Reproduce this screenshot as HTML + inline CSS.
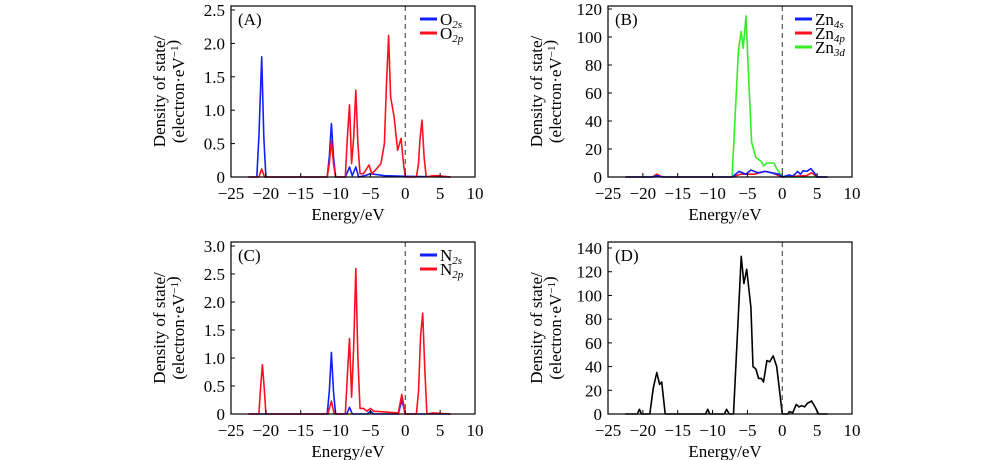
<!DOCTYPE html>
<html><head><meta charset="utf-8"><style>
body{margin:0;background:#fff;}
svg{display:block;font-family:"Liberation Serif",serif;}
</style></head><body>
<svg id="chart" width="1000" height="460" viewBox="0 0 1000 460" xmlns="http://www.w3.org/2000/svg"></svg>
<script>
const xTicks=[-25,-20,-15,-10,-5,0,5,10];
const yTicksA=[0,0.5,1.0,1.5,2.0,2.5];
const yTicksB=[0,20,40,60,80,100,120];
const yTicksC=[0,0.5,1.0,1.5,2.0,2.5,3.0];
const yTicksD=[0,20,40,60,80,100,120,140];
// Panel A
const aO2sE=[-22.5,-21.3,-21.0,-20.6,-20.3,-20.0,-11.2,-10.9,-10.6,-10.3,-10.0,-8.6,-8.0,-7.6,-7.1,-6.7,-5.5,-5,-3,0,6.5];
const aO2sV=[0,0,0.6,1.8,0.6,0,0,0.3,0.8,0.3,0,0,0.15,0.02,0.15,0,0.03,0.05,0.02,0.01,0];
const aO2pE=[-22.5,-21.0,-20.6,-20.2,-11.2,-10.9,-10.6,-10.3,-10.0,-8.6,-8.3,-8.0,-7.7,-7.4,-7.1,-6.8,-6.5,-6,-5.2,-4.8,-4.3,-3.5,-3.0,-2.7,-2.4,-2.1,-1.6,-1.1,-0.6,-0.25,0,1.6,1.9,2.1,2.4,2.7,3.0,4,4.7,6.5];
const aO2pV=[0,0,0.12,0,0,0.2,0.55,0.2,0,0,0.6,1.08,0.2,0.6,1.3,0.5,0.05,0.05,0.18,0.05,0.1,0.2,0.5,1.4,2.12,1.2,0.9,0.4,0.58,0.2,0,0,0.2,0.55,0.85,0.3,0,0.02,0.02,0];
// Panel B
const bZn4sE=[-22.5,-18.5,-18,-17.3,-7.2,-6.2,-5.2,-4.5,-3.5,-2.5,-1.5,-0.5,0,1,1.5,2.2,2.6,3,3.5,4.1,4.6,5,6.5];
const bZn4sV=[0,0,1,0,0,4,2,5,3,4,3,2,0,1.5,0.5,4,2,4.5,4,6,3,0,0];
const bZn4pE=[-22.5,-18.6,-18,-17.2,-7.2,-6,-4,-2.5,-1.5,0,3.5,4.2,5,6.5];
const bZn4pV=[0,0,2,0,0,2,2,4,3,0,1,3,0,0];
const bZn3dE=[-22.5,-18.8,-18,-17.2,-7.2,-6.8,-6.3,-5.9,-5.6,-5.2,-4.9,-4.4,-3.8,-3,-2.7,-2.2,-1.2,-0.8,0,6.5];
const bZn3dV=[0,0,1.5,0,0,40,90,104,92,115,80,25,14,11,8,10,10,6,0,0];
// Panel C
const cN2sE=[-22.5,-11.2,-10.9,-10.6,-10.3,-10.0,-8.4,-8.0,-7.6,-5.5,-5,-4.5,-1,-0.5,0,6.5];
const cN2sV=[0,0,0.4,1.1,0.4,0,0,0.12,0,0,0.05,0,0,0.25,0,0];
const cN2pE=[-22.5,-21.0,-20.8,-20.5,-20.2,-20.0,-11.1,-10.6,-10.2,-8.6,-8.3,-8.0,-7.7,-7.4,-7.1,-6.8,-6.5,-6,-5.5,-5,-4.5,-1,-0.5,0,1.6,1.9,2.2,2.5,2.8,3.1,4,6.5];
const cN2pV=[0,0,0.4,0.88,0.4,0,0,0.23,0,0,0.7,1.35,0.3,1.2,2.6,1.0,0.1,0.1,0.05,0.1,0.05,0.02,0.35,0,0,0.4,1.4,1.8,0.8,0,0.02,0];
// Panel D
const dTotE=[-22.5,-20.8,-20.5,-20.2,-19,-18.5,-18,-17.6,-17.3,-16.8,-11,-10.7,-10.4,-8.3,-8,-7.6,-7,-6.5,-5.9,-5.5,-5.1,-4.5,-4.2,-3.8,-3.4,-3,-2.7,-2.2,-1.8,-1.3,-0.8,-0.5,0,0.8,1,1.5,2,2.4,2.8,3.2,3.6,4.2,4.8,5.2,6.5];
const dTotV=[0,0,4,0,0,22,35,25,27,0,0,4,0,0,4,0,0,60,133,110,122,90,40,38,30,30,27,45,44,49,40,25,0,0,2,1,8,6,7,6,9,11,5,0,0];

const NS="http://www.w3.org/2000/svg";
const svg=document.getElementById('chart');
function mk(tag,attrs,parent){const e=document.createElementNS(NS,tag);for(const k in attrs)e.setAttribute(k,attrs[k]);(parent||svg).appendChild(e);return e;}

function panel(cfg){
  const g=mk('g',{});
  
  
  const L=cfg.left,R=cfg.right,T=cfg.top,B=cfg.bottom;
  const sx=e=>L+(e+25)/35*(R-L);
  const y0=B, ytop=cfg.yTickTop;
  const sy=v=>y0-v/cfg.yMax*(y0-ytop);
  cfg.series.forEach(s=>{
    const d=s.E.map((e,i)=>(i?'L':'M')+sx(e).toFixed(1)+' '+sy(s.V[i]).toFixed(1)).join(' ');
    const p=mk('path',{d:d,fill:'none',stroke:s.color,'stroke-width':1.6,'stroke-linejoin':'round'},g);
    
    
  });
  const fl=mk('line',{x1:sx(0),x2:sx(0),y1:T,y2:B,stroke:'#555','stroke-width':1.2,'stroke-dasharray':'5,4'},g);
  
  
  const fr=mk('rect',{x:L,y:T,width:R-L,height:B-T,fill:'none',stroke:'#000','stroke-width':1.2},g);
  
  
  xTicks.forEach(t=>{
    const x=sx(t);
    mk('line',{x1:x,x2:x,y1:B,y2:B-4,stroke:'#000'},g);
    const tx=mk('text',{x:x,y:B+22,'font-size':17,'text-anchor':'middle'},g);
    tx.textContent=(t<0?'\u2212'+(-t):t);
    
    
  });
  cfg.yTicks.forEach(t=>{
    const y=sy(t);
    mk('line',{x1:L,x2:L+4,y1:y,y2:y,stroke:'#000'},g);
    const tx=mk('text',{x:L-6,y:y+6,'font-size':17,'text-anchor':'end'},g);
    tx.textContent=t===0?'0':t.toFixed(cfg.dec);
    
    
  });
  const xl=mk('text',{x:(L+R)/2-5,y:B+43,'font-size':17,'text-anchor':'middle'},g);
  xl.textContent='Energy/eV';
  
  
  const yl=mk('text',{transform:`translate(${cfg.ytx},${(T+B)/2}) rotate(-90)`,'font-size':17,'text-anchor':'middle'},g);
  
  
  const t1=mk('tspan',{x:0,y:0},yl);t1.textContent='Density of state/';
  const t2=mk('tspan',{x:0,y:19},yl);t2.innerHTML='(electron·eV<tspan font-size="11" dy="-6">\u22121</tspan>)';
  const pl=mk('text',{x:L+7,y:T+19,'font-size':17},g);
  pl.textContent=cfg.label;
  
  
  cfg.legend.forEach((l,i)=>{
    const ly=T+13+i*14;
    const lg=mk('g',{},g);
    
    
    mk('line',{x1:cfg.legX,x2:cfg.legX+17,y1:ly,y2:ly,stroke:l.color,'stroke-width':3},lg);
    const t=mk('text',{x:cfg.legX+20,y:ly+6,'font-size':17},lg);
    t.innerHTML=l.base+'<tspan font-size="11" font-style="italic" dy="3">'+l.sub+'</tspan>';
  });
}

panel({name:'panel-a',label:'(A)',left:231,right:475,top:6,bottom:177,yTickTop:10,yMax:2.5,yTicks:yTicksA,dec:1,ytx:165,legX:420,
  series:[{id:'o2s-line',E:aO2sE,V:aO2sV,color:'#1020ff'},{id:'o2p-line',E:aO2pE,V:aO2pV,color:'#ff1020'}],
  legend:[{color:'#1020ff',base:'O',sub:'2s'},{color:'#ff1020',base:'O',sub:'2p'}]});
panel({name:'panel-b',label:'(B)',left:608,right:852,top:6,bottom:177,yTickTop:9,yMax:120,yTicks:yTicksB,dec:0,ytx:542,legX:795,
  series:[{id:'zn3d-line',E:bZn3dE,V:bZn3dV,color:'#33ee22'},{id:'zn4p-line',E:bZn4pE,V:bZn4pV,color:'#ff1020'},{id:'zn4s-line',E:bZn4sE,V:bZn4sV,color:'#1020ff'}],
  legend:[{color:'#1020ff',base:'Zn',sub:'4s'},{color:'#ff1020',base:'Zn',sub:'4p'},{color:'#33ee22',base:'Zn',sub:'3d'}]});
panel({name:'panel-c',label:'(C)',left:231,right:475,top:242,bottom:414,yTickTop:246,yMax:3.0,yTicks:yTicksC,dec:1,ytx:165,legX:420,
  series:[{id:'n2s-line',E:cN2sE,V:cN2sV,color:'#1020ff'},{id:'n2p-line',E:cN2pE,V:cN2pV,color:'#ff1020'}],
  legend:[{color:'#1020ff',base:'N',sub:'2s'},{color:'#ff1020',base:'N',sub:'2p'}]});
panel({name:'panel-d',label:'(D)',left:608,right:852,top:242,bottom:414,yTickTop:248,yMax:140,yTicks:yTicksD,dec:0,ytx:542,legX:0,
  series:[{id:'total-dos-line',E:dTotE,V:dTotV,color:'#000'}],legend:[]});
</script>
</body></html>
